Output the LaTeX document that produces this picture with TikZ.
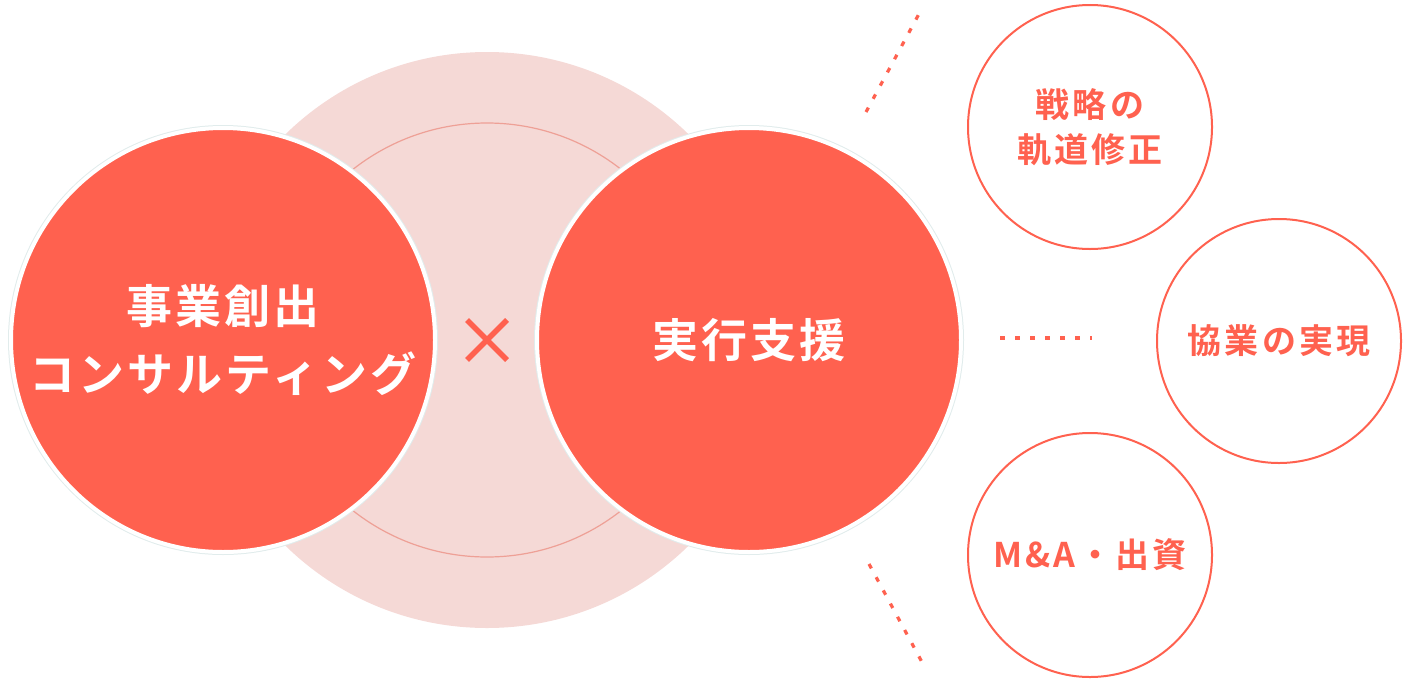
\documentclass[tikz,border=0pt]{standalone}
\usepackage{fontspec}
\setmainfont{Noto Sans CJK JP}[BoldFont={Noto Sans CJK JP Bold}]
\newfontfamily\bigjp{Noto Sans CJK JP Bold}[LetterSpace=7]
\newfontfamily\smalljp{Noto Sans CJK JP Bold}[LetterSpace=9]
\definecolor{mainred}{RGB}{255,97,79}
\definecolor{palepink}{RGB}{245,217,214}
\definecolor{ringline}{RGB}{238,160,150}
\definecolor{edgetint}{RGB}{225,236,236}
\tikzset{
  bigcircle/.style={circle, fill=mainred, draw=white, line width=4pt, minimum size=424pt, inner sep=0pt,
     text=white, font=\bigjp\fontsize{46pt}{68pt}\selectfont, align=center},
  smallcircle/.style={circle, fill=white, draw=mainred, line width=2pt, minimum size=244pt, inner sep=0pt,
     text=mainred, font=\smalljp\fontsize{34pt}{45pt}\selectfont, align=center},
  dotline/.style={draw=mainred, line width=3.2pt, dash pattern=on 5pt off 10pt},
}
\begin{document}
\begin{tikzpicture}[x=1pt,y=-1pt]
\useasboundingbox (0,0) rectangle (1404,680);
% background pale circle and ring
\node[circle, fill=palepink, minimum size=576pt, inner sep=0pt] (pale) at (487,340) {};
\node[circle, draw=ringline, line width=1.2pt, minimum size=434pt, inner sep=0pt] (ring) at (487,340) {};
% faint tint halo
\fill[edgetint] (223,340) circle (215);
\fill[edgetint] (749,340) circle (215);
% main circles
\node[bigcircle] (left) at (223,340) {事業創出\\コンサルティング};
\node[bigcircle] (right) at (749,340) {実行支援};
% cross
\coordinate (cx1) at (467,320);
\coordinate (cx2) at (507,360);
\coordinate (cx3) at (507,320);
\coordinate (cx4) at (467,360);
\draw[mainred, line width=5.5pt] (cx1) -- (cx2) (cx3) -- (cx4);
% small circles
\node[smallcircle] (s1) at (1090,127) {戦略の\\軌道修正};
\node[smallcircle] (s2) at (1279,341) {協業の実現};
\node[smallcircle] (s3) at (1090,555) {M\&A・出資};
% dotted lines
\coordinate (d1a) at (866,112);
\coordinate (d1b) at (920,12);
\coordinate (d2a) at (1000,338);
\coordinate (d2b) at (1092,338);
\coordinate (d3a) at (869,564);
\coordinate (d3b) at (923,664);
\draw[dotline] (d1a) -- (d1b);
\draw[dotline] (d2a) -- (d2b);
\draw[dotline] (d3a) -- (d3b);
\end{tikzpicture}
\end{document}
